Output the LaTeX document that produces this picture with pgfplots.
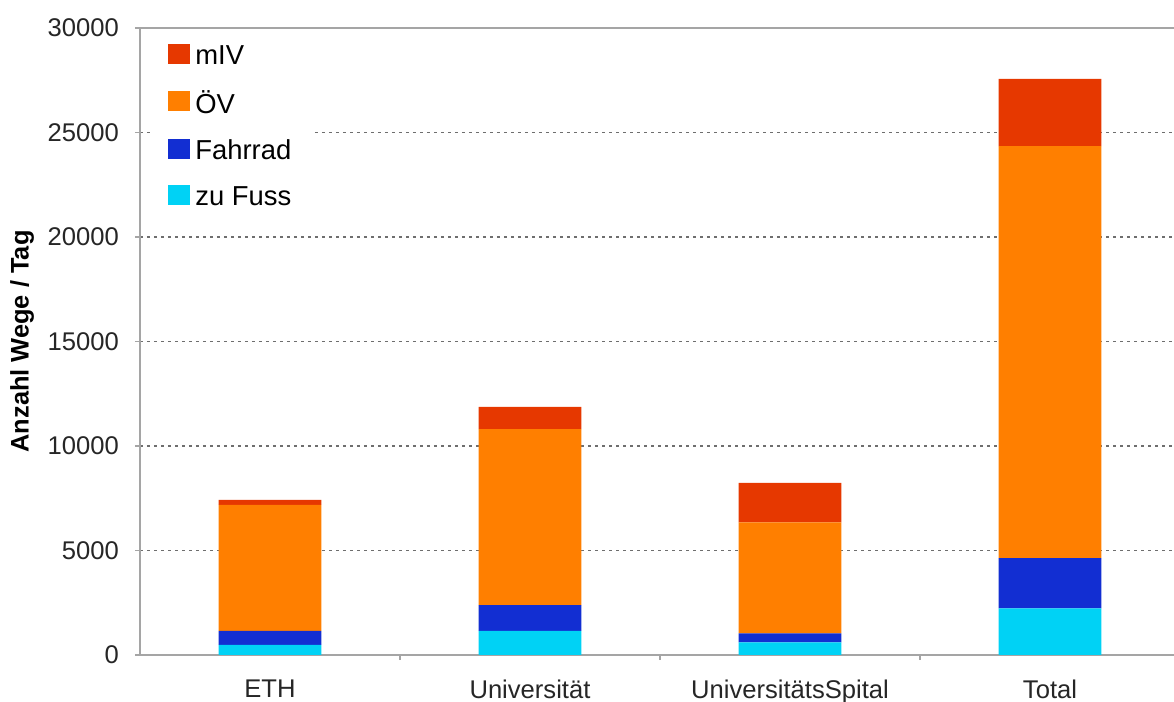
\documentclass[border=0pt]{standalone}
\usepackage{fontspec}
\setmainfont{Liberation Sans}
\usepackage{pgfplots}
\pgfplotsset{compat=1.18}

\definecolor{cmiv}{RGB}{230,56,0}
\definecolor{coev}{RGB}{255,127,0}
\definecolor{crad}{RGB}{18,46,210}
\definecolor{cfuss}{RGB}{0,210,245}
\definecolor{axgray}{RGB}{165,165,165}
\definecolor{gridgray}{RGB}{110,110,110}

% Wege pro Tag, je Verkehrsmittel (x = 0..3: ETH, Uni, USZ, Total)
\pgfplotstableread{
x fuss rad oev miv
0 480  680  6020  240
1 1150 1240 8420  1060
2 610  430  5310  1890
3 2230 2400 19720 3210
}\wege

\begin{document}
\begin{tikzpicture}
\useasboundingbox (-70pt,-23.5pt) rectangle (517pt,327.5pt);
\begin{axis}[
  at={(0,0)}, anchor=south west,
  scale only axis,
  width=517pt, height=313.5pt,
  ybar stacked,
  bar width=0.396,
  xmin=-0.5, xmax=3.477,
  ymin=0, ymax=30000,
  ytick={0,5000,...,30000},
  xtick={0,1,2,3},
  xticklabels={ETH,Universität,UniversitätsSpital,Total},
  minor xtick={0.5,1.5,2.5},
  major x tick style={draw=none},
  minor x tick style={axgray, line width=0.6pt},
  y tick style={axgray, line width=0.6pt},
  tick align=outside,
  major tick length=2.5pt,
  minor tick length=2.5pt,
  axis x line*=bottom,
  axis y line*=left,
  axis line style={axgray, line width=0.8pt},
  ymajorgrids,
  grid style={gridgray, line width=0.8pt, dash pattern=on 1.5pt off 2pt},
  scaled y ticks=false,
  /pgf/number format/1000 sep={},
  /pgf/number format/assume math mode=true,
  ticklabel style={font=\fontsize{12.8}{15}\selectfont, text=black!85},
  yticklabel style={xshift=-4.5pt},
  xticklabel style={yshift=-6.5pt},
  ylabel={Anzahl Wege / Tag},
  ylabel style={font=\fontsize{12.7}{15}\selectfont\bfseries, at={(axis description cs:0,0.5)}, yshift=59pt, anchor=center},
  reverse legend,
  legend cell align=left,
  legend image code/.code={\fill[#1] (0pt,-4.1pt) rectangle (11pt,5.9pt);},
  legend style={at={(0,1)}, anchor=north west, xshift=6pt, yshift=-5pt,
    draw=none, fill=white, inner xsep=8pt, inner ysep=3pt,
    font=\fontsize{13.7}{16}\selectfont, row sep=11.5pt,
    nodes={inner xsep=2.5pt, inner ysep=0pt}},
]
\addplot[fill=cfuss, draw=none] table[x=x, y=fuss] {\wege};
\addplot[fill=crad, draw=none] table[x=x, y=rad] {\wege};
\addplot[fill=coev, draw=none] table[x=x, y=oev] {\wege};
\addplot[fill=cmiv, draw=none] table[x=x, y=miv] {\wege};
\legend{zu Fuss, Fahrrad, ÖV, mIV}
\draw[axgray, line width=0.8pt] (rel axis cs:0,1) -- (rel axis cs:1,1);
\end{axis}
\end{tikzpicture}
\end{document}
